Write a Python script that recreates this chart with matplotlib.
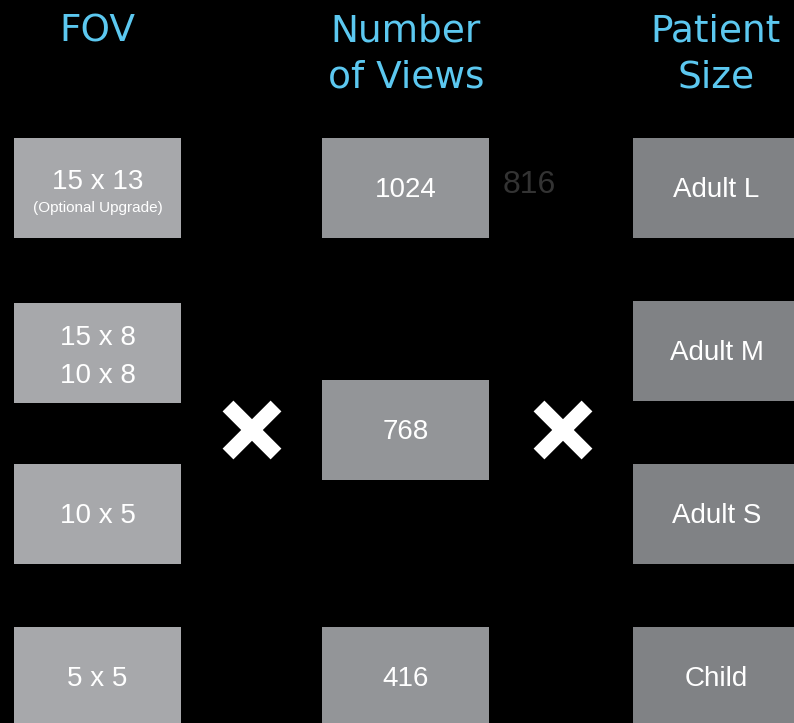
import matplotlib
matplotlib.use('Agg')
import matplotlib.pyplot as plt
from matplotlib.patches import Rectangle

# Column contents
fov_labels = ['15 x 13', '15 x 8\n10 x 8', '10 x 5', '5 x 5']
fov_rows = [138, 303, 464, 627]
views_labels = ['1024', '768', '416']
views_rows = [138, 380, 627]
size_labels = ['Adult L', 'Adult M', 'Adult S', 'Child']
size_rows = [138, 301, 464, 627]
headers = ['FOV', 'Number\nof Views', 'Patient\nSize']

BLUE = '#5cc8f0'
COL_FOV = '#a7a8ab'
COL_VIEWS = '#939598'
COL_SIZE = '#808285'

fig = plt.figure(figsize=(7.94, 7.23), dpi=100, facecolor='black')
ax = fig.add_axes([0, 0, 1, 1])
ax.set_facecolor('black')
ax.set_xlim(0, 794)
ax.set_ylim(723, 0)
ax.axis('off')

box_w, box_h = 167, 100
columns = [
    (14, fov_labels, fov_rows, COL_FOV),
    (322, views_labels, views_rows, COL_VIEWS),
    (633, size_labels, size_rows, COL_SIZE),
]
for x0, labels, rows, col in columns:
    for lab, y0 in zip(labels, rows):
        ax.add_patch(Rectangle((x0, y0), box_w, box_h, facecolor=col, edgecolor='none'))
        cy = y0 + box_h / 2 + 2
        if '\n' in lab:
            a, b = lab.split('\n')
            ax.text(x0 + box_w / 2, cy - 17, a, color='white', fontsize=20,
                    family='Liberation Sans', ha='center', va='center')
            ax.text(x0 + box_w / 2, cy + 21, b, color='white', fontsize=20,
                    family='Liberation Sans', ha='center', va='center')
        else:
            off = -8 if lab == '15 x 13' else 0
            ax.text(x0 + box_w / 2, cy + off, lab, color='white', fontsize=20,
                    family='Liberation Sans', ha='center', va='center')

# small note under 15 x 13
ax.text(14 + box_w / 2, 208, '(Optional Upgrade)', color='white', fontsize=11,
        family='Liberation Sans', ha='center', va='center')

# faint 816
ax.text(529, 185, '816', color='#333333', fontsize=23, family='Liberation Sans',
        ha='center', va='center')

# headers
header_x = [97, 406, 716]
for hx, h in zip(header_x, headers):
    for i, line in enumerate(h.split('\n')):
        ax.text(hx, 32 + 45 * i, line, color=BLUE, fontsize=27, family='DejaVu Sans',
                ha='center', va='center')

# multiplication signs
for cx in [252, 563]:
    ax.plot([cx - 24, cx + 24], [430 - 24, 430 + 24], color='white', lw=11, solid_capstyle='butt')
    ax.plot([cx - 24, cx + 24], [430 + 24, 430 - 24], color='white', lw=11, solid_capstyle='butt')

fig.savefig('out.png', dpi=100, facecolor='black')
